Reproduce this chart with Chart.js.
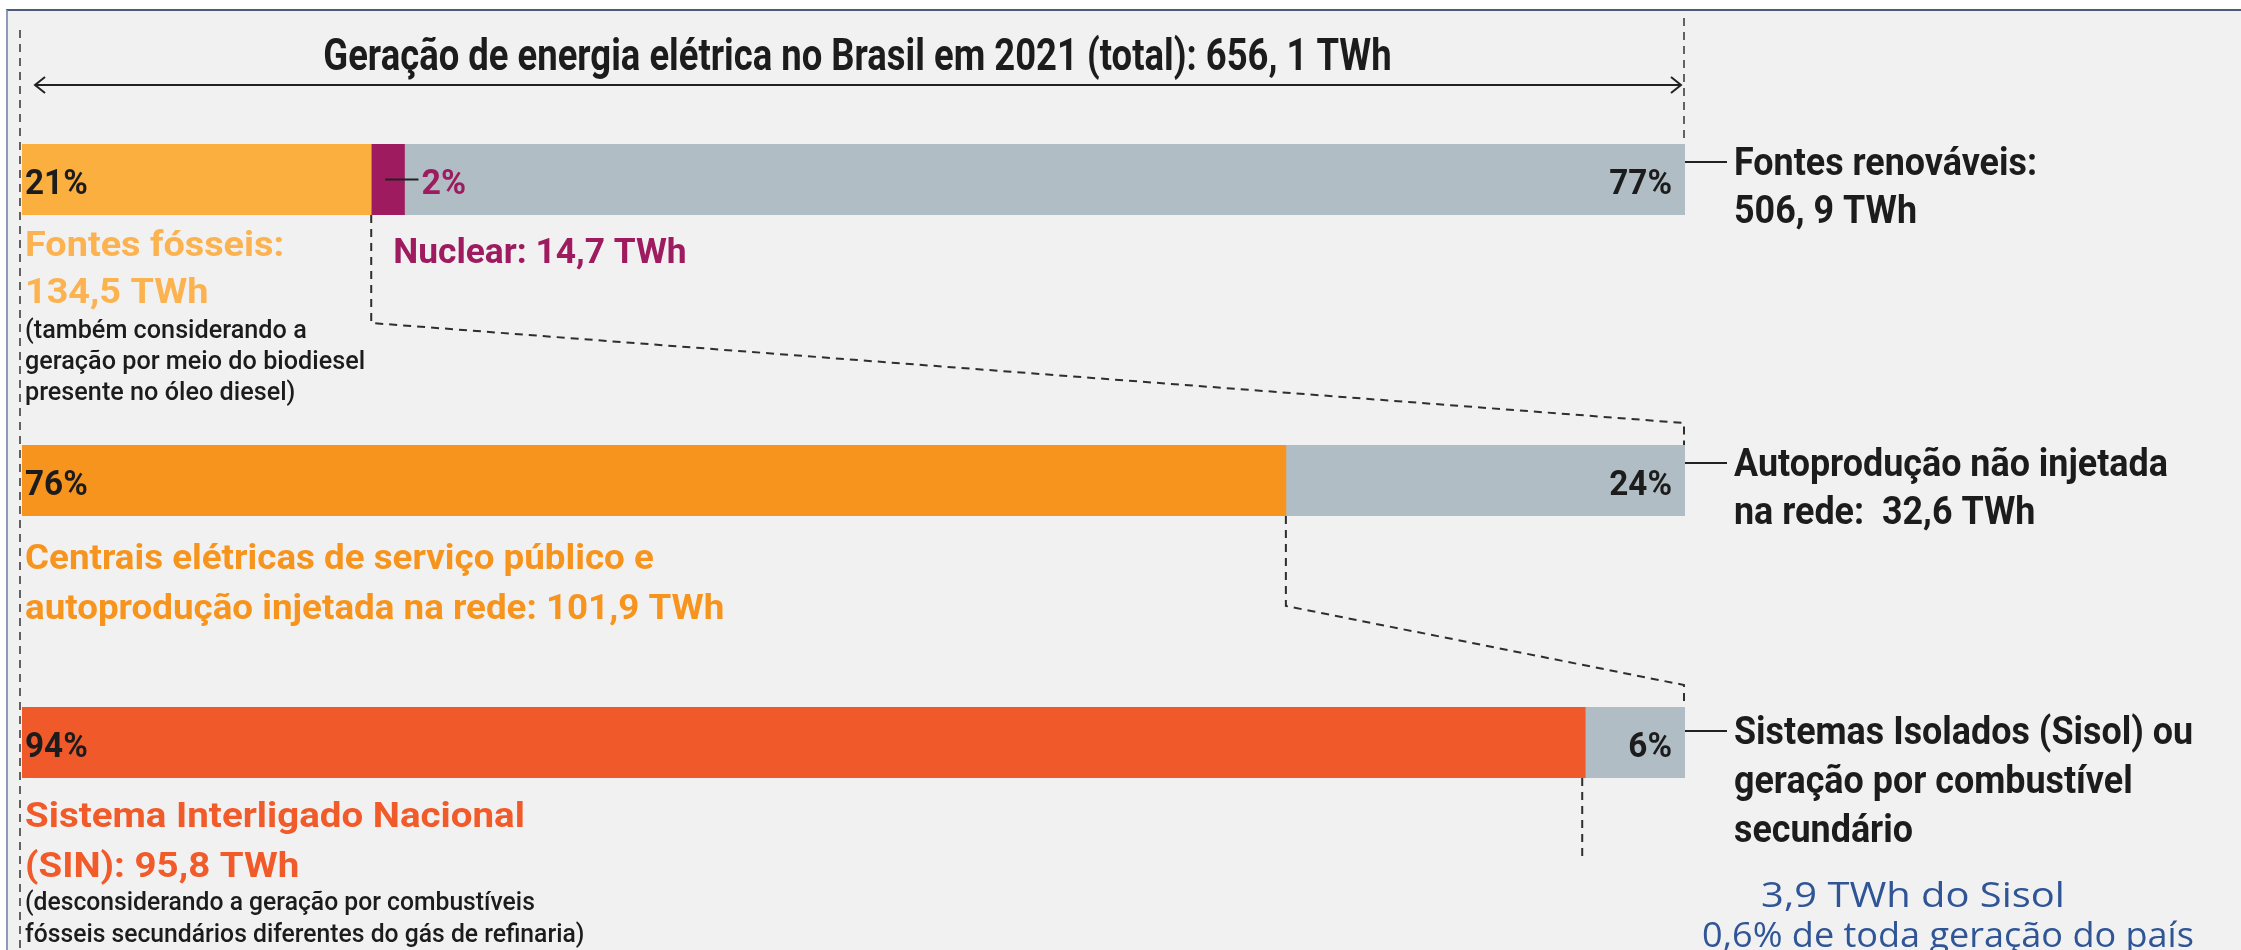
<!DOCTYPE html>
<html lang="pt-BR">
<head>
<meta charset="utf-8">
<title>Geração de energia elétrica no Brasil em 2021</title>
<script src="https://cdn.jsdelivr.net/npm/chart.js@4.4.1/dist/chart.umd.min.js"></script>
<style>
  html, body { margin: 0; padding: 0; background: #fff; }
  body { width: 2241px; height: 950px; position: relative; overflow: hidden; }
  .quadro {
    position: absolute; left: 6px; top: 9px; right: 0; bottom: 0;
    background: #f1f1f1;
    border-top: 2px solid #4b5b79;
    border-left: 2px solid #8e9bb6;
  }
  canvas { position: absolute; left: 0; top: 0; }
</style>
</head>
<body>
<div class="quadro"></div>
<canvas id="linha1" width="2241" height="950"></canvas>
<canvas id="linha2" width="2241" height="950"></canvas>
<canvas id="linha3" width="2241" height="950"></canvas>
<script>
// participação (%) em cada nível da geração de 2021
const geracao = [21, 2, 77];   // fósseis, nuclear, renováveis
const centrais = [76, 24];     // serviço público + injetada, autoprodução não injetada
const sistemas = [94, 6];      // SIN, Sisol / combustível secundário

const W = 2241, H = 950;
const BARRA_ESQ = 22, BARRA_DIR = 1685, ALTURA = 71;
const TOPOS = [144, 445, 707];
const CINZA = '#b1bdc4';
const FONTE = 'Roboto, "Liberation Sans", sans-serif';
const PRETO = '#1c1c1c';

function criaLinha(id, valores, cores, topo, extras) {
  return new Chart(document.getElementById(id), {
    type: 'bar',
    data: {
      labels: [''],
      datasets: valores.map((v, i) => ({
        data: [v],
        backgroundColor: cores[i],
        borderWidth: 0,
        barPercentage: 1,
        categoryPercentage: 1
      }))
    },
    options: {
      indexAxis: 'y',
      responsive: false,
      animation: false,
      devicePixelRatio: 1,
      layout: { padding: { left: BARRA_ESQ, right: W - BARRA_DIR, top: topo, bottom: H - topo - ALTURA } },
      plugins: { legend: { display: false }, tooltip: { enabled: false } },
      scales: {
        x: { stacked: true, min: 0, max: 100, display: false },
        y: { stacked: true, display: false }
      }
    },
    plugins: extras || []
  });
}

// geometria de cada segmento da barra
function segmentos(chart) {
  return chart.data.datasets.map((d, i) => {
    const el = chart.getDatasetMeta(i).data[0];
    return {
      x0: Math.min(el.base, el.x), x1: Math.max(el.base, el.x),
      top: el.y - el.height / 2, bottom: el.y + el.height / 2, cy: el.y
    };
  });
}

function texto(ctx, s, x, y, tam, cor, o) {
  o = o || {};
  ctx.save();
  ctx.font = (o.peso || 'bold') + ' ' + tam + 'px ' + (o.fonte || FONTE);
  ctx.fillStyle = cor;
  ctx.textAlign = o.alinha || 'left';
  ctx.textBaseline = 'alphabetic';
  ctx.translate(x, y);
  ctx.scale(o.sx || 1, 1);
  ctx.fillText(s, 0, 0);
  ctx.restore();
}

function linhas(ctx, s, x, y, passo, tam, cor, o) {
  s.forEach((t, i) => texto(ctx, t, x, y + i * passo, tam, cor, o));
}

function traco(ctx, pts, largura, dash, cor) {
  ctx.save();
  ctx.strokeStyle = cor || '#2e2e2e';
  ctx.lineWidth = largura;
  ctx.setLineDash(dash || []);
  ctx.beginPath();
  pts.forEach((p, i) => i ? ctx.lineTo(p[0], p[1]) : ctx.moveTo(p[0], p[1]));
  ctx.stroke();
  ctx.restore();
}

function seta(ctx, xa, xb, y) {
  traco(ctx, [[xa, y], [xb, y]], 2, null, '#222');
  traco(ctx, [[xa + 10, y - 8], [xa, y], [xa + 10, y + 8]], 2, null, '#222');
  traco(ctx, [[xb - 10, y - 8], [xb, y], [xb - 10, y + 8]], 2, null, '#222');
}

const anotacoes = {
  id: 'anotacoes',
  afterDraw(chart) {
    const ctx = chart.ctx;
    const s1 = segmentos(l1), s2 = segmentos(l2), s3 = segmentos(chart);
    const esq = s1[0].x0, dir = s1[s1.length - 1].x1;
    const tx = esq + 3;
    const TR = [8, 6];

    // limites do total
    traco(ctx, [[esq - 2, 30], [esq - 2, H]], 1.5, TR, '#333');
    traco(ctx, [[dir - 1, 18], [dir - 1, s1[0].top]], 1.5, TR, '#333');
    seta(ctx, esq + 13, dir - 4, 85);
    texto(ctx, 'Geração de energia elétrica no Brasil em 2021 (total): 656, 1 TWh',
      (esq + dir) / 2 + 4, 70, 45, PRETO, { sx: 0.81, alinha: 'center' });

    // rótulos percentuais dentro das barras
    const pct = (seg, v, alinha) => texto(ctx, v + '%',
      alinha === 'right' ? seg.x1 - 13 : tx, seg.cy + 14, 35, PRETO, { alinha: alinha, sx: 0.95 });
    pct(s1[0], geracao[0], 'left');
    pct(s1[2], geracao[2], 'right');
    pct(s2[0], centrais[0], 'left');
    pct(s2[1], centrais[1], 'right');
    pct(s3[0], sistemas[0], 'left');
    pct(s3[1], sistemas[1], 'right');

    // nuclear
    traco(ctx, [[s1[1].x0 + 14, s1[1].cy], [s1[1].x1 + 14, s1[1].cy]], 2, null, '#222');
    texto(ctx, geracao[1] + '%', s1[1].x1 + 17, s1[1].cy + 14, 35, '#9e1b5f', { sx: 0.97 });
    texto(ctx, 'Nuclear: 14,7 TWh', s1[1].x0 + 22, s1[1].bottom + 48, 35, '#9e1b5f', { sx: 1.01 });

    // fósseis
    linhas(ctx, ['Fontes fósseis:', '134,5 TWh'], tx, s1[0].bottom + 41, 47, 35, '#fbb24f', { sx: 1.08 });
    linhas(ctx, ['(também considerando a', 'geração por meio do biodiesel', 'presente no óleo diesel)'],
      tx, s1[0].bottom + 123, 31, 26, PRETO, { peso: 500, sx: 0.97 });

    // centrais
    linhas(ctx, ['Centrais elétricas de serviço público e', 'autoprodução injetada na rede: 101,9 TWh'],
      tx, s2[0].bottom + 53, 50, 35, '#f7941d', { sx: 1.05 });

    // SIN
    linhas(ctx, ['Sistema Interligado Nacional', '(SIN): 95,8 TWh'],
      tx, s3[0].bottom + 49, 50, 35, '#f15a29', { sx: 1.1 });
    linhas(ctx, ['(desconsiderando a geração por combustíveis', 'fósseis secundários diferentes do gás de refinaria)'],
      tx, s3[0].bottom + 132, 32, 26, PRETO, { peso: 500, sx: 0.95 });

    // rótulos à direita
    const direita = (base, txt, passo) => {
      traco(ctx, [[dir, base - 13], [dir + 42, base - 13]], 2, null, '#222');
      linhas(ctx, txt, dir + 49, base, passo, 39, PRETO, { sx: 0.92 });
    };
    direita(s1[2].top + 31, ['Fontes renováveis:', '506, 9 TWh'], 48);
    direita(s2[1].top + 31, ['Autoprodução não injetada', 'na rede:  32,6 TWh'], 48);
    direita(s3[1].top + 37, ['Sistemas Isolados (Sisol) ou', 'geração por combustível', 'secundário'], 49);

    // ligações tracejadas entre os níveis
    traco(ctx, [[s1[0].x1, s1[0].bottom], [s1[0].x1, s1[0].bottom + 108],
      [dir - 1, s2[0].top - 22], [dir - 1, s2[0].top]], 2, TR);
    traco(ctx, [[s2[0].x1, s2[0].bottom], [s2[0].x1, s2[0].bottom + 90],
      [dir - 1, s3[0].top - 22], [dir - 1, s3[0].top]], 2, TR);
    traco(ctx, [[s3[0].x1 - 3, s3[0].bottom], [s3[0].x1 - 3, s3[0].bottom + 78]], 2, TR);

    // Sisol
    const sisol = { peso: 400, fonte: '"Open Sans", Lato, sans-serif', alinha: 'center' };
    texto(ctx, '3,9 TWh do Sisol', 1913, 907, 35, '#2f5597', Object.assign({ sx: 1.14 }, sisol));
    texto(ctx, '0,6% de toda geração do país', 1948, 947, 35, '#2f5597', Object.assign({ sx: 1.03 }, sisol));
  }
};

const l1 = criaLinha('linha1', geracao, ['#fbaf3f', '#9e1b5f', CINZA], TOPOS[0]);
const l2 = criaLinha('linha2', centrais, ['#f7941e', CINZA], TOPOS[1]);
const l3 = criaLinha('linha3', sistemas, ['#f05a2b', CINZA], TOPOS[2], [anotacoes]);
</script>
</body>
</html>
